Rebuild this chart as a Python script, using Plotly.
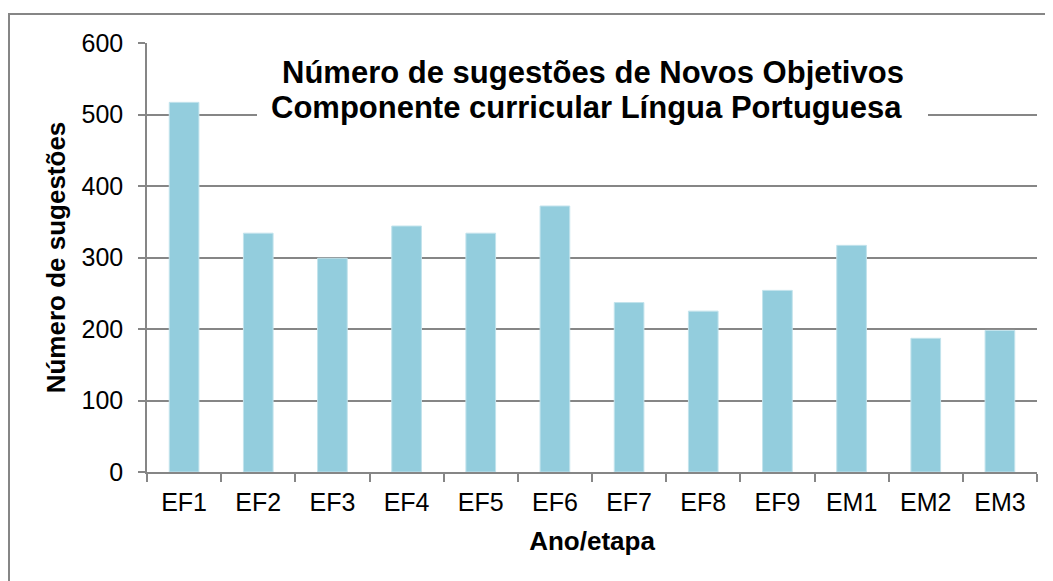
import plotly.graph_objects as go

categories = ["EF1", "EF2", "EF3", "EF4", "EF5", "EF6", "EF7", "EF8", "EF9", "EM1", "EM2", "EM3"]
values = [517, 334, 299, 344, 334, 372, 237, 225, 254, 317, 187, 198]
y_ticks = [0, 100, 200, 300, 400, 500, 600]

title_line1 = "Número de sugestões de Novos Objetivos"
title_line2 = "Componente curricular Língua Portuguesa"
x_title = "Ano/etapa"
y_title = "Número de sugestões"

FONT = "Liberation Sans, Arial, sans-serif"
GRID = "#868686"

fig = go.Figure(go.Bar(
    x=categories, y=values,
    marker=dict(color="#93CDDD", line=dict(color="#C2E3EC", width=1)),
))

# page has an 8px body margin; the figure is offset by it
OFF = 8
W, H = 1053 - OFF, 581 - OFF
L, R, T, B = 147 - OFF, 16, 43 - OFF, 109
pw, ph = W - L - R, H - T - B

def px(x):
    return (x - OFF - L) / pw

def py(y):
    return (H - B - (y - OFF)) / ph

fig.update_layout(
    width=W, height=H,
    margin=dict(l=L, r=R, t=T, b=B, autoexpand=False),
    paper_bgcolor="white", plot_bgcolor="white",
    font=dict(family=FONT, color="black", size=25),
    bargap=0.6,
    showlegend=False,
    xaxis=dict(
        showline=True, linecolor=GRID, linewidth=1.5,
        ticks="outside", tickson="boundaries", ticklen=8, tickcolor=GRID, tickwidth=1.5,
        tickfont=dict(size=25), ticklabelstandoff=7,
        title=dict(text=f"<b>{x_title}</b>", font=dict(size=26), standoff=17),
        showgrid=False,
    ),
    yaxis=dict(
        range=[0, 600], tickvals=y_ticks,
        showline=True, linecolor=GRID, linewidth=1.5,
        ticks="outside", ticklen=7, tickcolor=GRID, tickwidth=1.5,
        showgrid=True, gridcolor=GRID, gridwidth=1.5,
        tickfont=dict(size=25), ticklabelstandoff=10,
        title=dict(text=f"<b>{y_title}</b>", font=dict(size=26), standoff=8),
        zeroline=False,
    ),
    shapes=[
        dict(type="rect", xref="paper", yref="paper",
             x0=px(257), x1=px(928), y0=py(136), y1=py(38),
             fillcolor="white", line=dict(width=0), layer="above"),
        dict(type="rect", xref="paper", yref="paper",
             x0=px(9), x1=px(1070), y0=py(600), y1=py(14),
             fillcolor="rgba(0,0,0,0)", line=dict(color=GRID, width=2), layer="above"),
    ],
    annotations=[
        dict(text=f"<b>{title_line1}</b>", xref="paper", yref="paper",
             x=px(593), y=py(72), xanchor="center", yanchor="middle",
             showarrow=False, font=dict(size=31, family=FONT, color="black")),
        dict(text=f"<b>{title_line2}</b>", xref="paper", yref="paper",
             x=px(586), y=py(107), xanchor="center", yanchor="middle",
             showarrow=False, font=dict(size=31, family=FONT, color="black")),
    ],
)

fig.write_html("out.html")
